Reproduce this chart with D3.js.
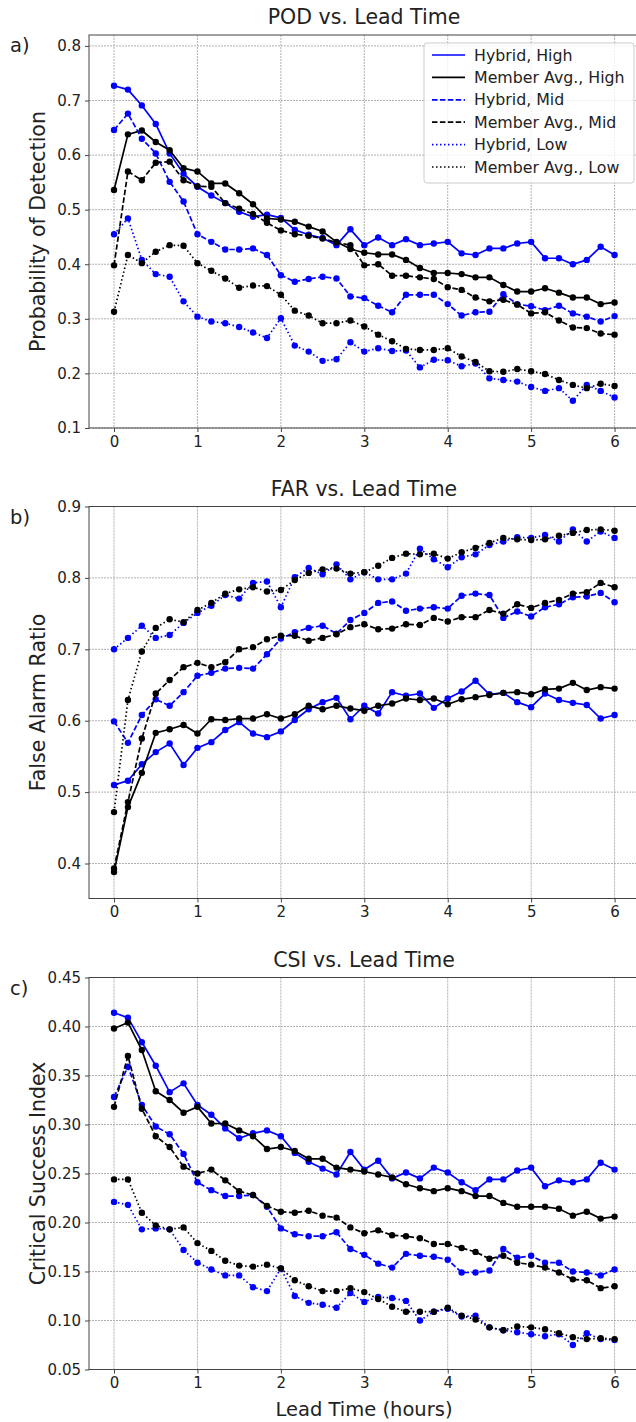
<!DOCTYPE html>
<html>
<head>
<meta charset="utf-8">
<script src="https://cdn.jsdelivr.net/npm/d3@7"></script>
<style>
  body { margin: 0; background: #fff; }
  svg text { font-family: "DejaVu Sans", sans-serif; fill: #222; }
</style>
</head>
<body>
<div id="chart"></div>
<script>
// lead time in minutes (10-minute steps out to 6 hours)
var leadMinutes = [0,10,20,30,40,50,60,70,80,90,100,110,120,130,140,150,160,170,180,
  190,200,210,220,230,240,250,260,270,280,290,300,310,320,330,340,350,360];

var seriesNames = ["Hybrid, High", "Member Avg., High", "Hybrid, Mid",
  "Member Avg., Mid", "Hybrid, Low", "Member Avg., Low"];

// a) POD
var podHybridHigh = [0.727,0.720,0.691,0.657,0.603,0.566,0.542,0.526,0.512,0.496,0.487,0.491,0.485,
  0.463,0.454,0.448,0.435,0.464,0.435,0.449,0.435,0.446,0.435,0.438,0.441,
  0.420,0.417,0.429,0.429,0.438,0.441,0.411,0.411,0.400,0.408,0.432,0.417];
var podMemberHigh = [0.536,0.638,0.645,0.624,0.609,0.576,0.570,0.548,0.548,0.530,0.510,0.484,0.482,
  0.478,0.469,0.460,0.441,0.428,0.421,0.418,0.418,0.408,0.393,0.384,0.384,
  0.382,0.376,0.376,0.362,0.350,0.350,0.356,0.348,0.339,0.339,0.327,0.330];
var podHybridMid = [0.646,0.676,0.630,0.603,0.551,0.515,0.455,0.441,0.427,0.427,0.429,0.417,0.380,
  0.368,0.373,0.377,0.374,0.341,0.338,0.324,0.312,0.344,0.344,0.344,0.327,
  0.306,0.312,0.313,0.345,0.327,0.323,0.316,0.324,0.310,0.304,0.295,0.305];
var podMemberMid = [0.398,0.570,0.554,0.586,0.588,0.554,0.543,0.542,0.512,0.502,0.492,0.476,0.462,
  0.455,0.452,0.447,0.440,0.435,0.398,0.400,0.379,0.379,0.376,0.373,0.358,
  0.353,0.339,0.332,0.335,0.326,0.310,0.312,0.297,0.284,0.283,0.273,0.271];
var podHybridLow = [0.455,0.484,0.408,0.382,0.377,0.332,0.304,0.295,0.292,0.285,0.275,0.265,0.301,
  0.251,0.240,0.223,0.226,0.257,0.240,0.246,0.241,0.242,0.211,0.225,0.224,
  0.213,0.218,0.191,0.188,0.185,0.175,0.168,0.173,0.150,0.179,0.168,0.156];
var podMemberLow = [0.313,0.417,0.402,0.423,0.435,0.434,0.402,0.388,0.374,0.357,0.361,0.360,0.344,
  0.315,0.306,0.292,0.292,0.297,0.286,0.271,0.259,0.245,0.243,0.243,0.246,
  0.231,0.221,0.204,0.203,0.208,0.204,0.199,0.188,0.179,0.173,0.181,0.177];

// b) FAR
var farHybridHigh = [0.510,0.516,0.539,0.556,0.568,0.538,0.562,0.570,0.587,0.598,0.582,0.577,0.585,
  0.601,0.616,0.626,0.632,0.602,0.621,0.610,0.640,0.635,0.638,0.618,0.631,
  0.641,0.656,0.637,0.639,0.626,0.619,0.638,0.629,0.625,0.622,0.603,0.608];
var farMemberHigh = [0.388,0.479,0.527,0.583,0.588,0.594,0.582,0.602,0.601,0.603,0.603,0.609,0.603,
  0.609,0.621,0.616,0.621,0.617,0.614,0.621,0.624,0.631,0.629,0.631,0.623,
  0.630,0.633,0.636,0.639,0.640,0.637,0.644,0.645,0.653,0.643,0.647,0.645];
var farHybridMid = [0.599,0.569,0.608,0.630,0.621,0.640,0.663,0.667,0.673,0.674,0.673,0.693,0.715,
  0.724,0.730,0.733,0.722,0.741,0.751,0.765,0.767,0.754,0.757,0.759,0.757,
  0.775,0.778,0.776,0.744,0.753,0.746,0.759,0.763,0.773,0.774,0.779,0.766];
var farMemberMid = [0.393,0.486,0.575,0.638,0.657,0.675,0.681,0.675,0.682,0.700,0.703,0.714,0.719,
  0.719,0.712,0.716,0.721,0.731,0.735,0.728,0.729,0.735,0.734,0.744,0.739,
  0.745,0.745,0.755,0.750,0.763,0.758,0.765,0.769,0.778,0.780,0.793,0.787];
var farHybridLow = [0.700,0.716,0.733,0.716,0.720,0.737,0.751,0.761,0.776,0.771,0.793,0.795,0.759,
  0.801,0.814,0.805,0.819,0.798,0.808,0.798,0.798,0.806,0.841,0.826,0.815,
  0.829,0.833,0.846,0.851,0.857,0.856,0.860,0.851,0.868,0.851,0.865,0.856];
var farMemberLow = [0.472,0.629,0.697,0.730,0.742,0.738,0.755,0.765,0.778,0.784,0.787,0.781,0.783,
  0.797,0.807,0.812,0.813,0.806,0.808,0.817,0.828,0.834,0.833,0.834,0.827,
  0.836,0.842,0.849,0.856,0.854,0.853,0.854,0.859,0.863,0.867,0.868,0.866];

// c) CSI
var csiHybridHigh = [0.414,0.409,0.384,0.360,0.333,0.342,0.320,0.310,0.296,0.286,0.291,0.294,0.288,
  0.271,0.262,0.255,0.249,0.272,0.254,0.263,0.245,0.251,0.245,0.256,0.251,
  0.241,0.233,0.244,0.244,0.253,0.256,0.237,0.243,0.241,0.244,0.261,0.254];
var csiMemberHigh = [0.398,0.404,0.376,0.334,0.325,0.312,0.318,0.301,0.301,0.294,0.288,0.275,0.277,
  0.273,0.265,0.265,0.256,0.254,0.252,0.249,0.246,0.239,0.235,0.232,0.235,
  0.232,0.227,0.227,0.220,0.216,0.216,0.216,0.214,0.207,0.211,0.204,0.206];
var csiHybridMid = [0.328,0.359,0.320,0.298,0.290,0.270,0.241,0.233,0.227,0.227,0.228,0.216,0.194,
  0.188,0.186,0.186,0.190,0.173,0.167,0.158,0.154,0.168,0.166,0.165,0.162,
  0.149,0.149,0.151,0.173,0.164,0.166,0.159,0.159,0.150,0.149,0.146,0.152];
var csiMemberMid = [0.318,0.370,0.316,0.288,0.277,0.257,0.250,0.254,0.243,0.232,0.228,0.217,0.211,
  0.210,0.212,0.207,0.205,0.195,0.189,0.192,0.187,0.186,0.184,0.178,0.178,
  0.174,0.170,0.163,0.166,0.159,0.157,0.154,0.149,0.142,0.141,0.133,0.135];
var csiHybridLow = [0.221,0.218,0.193,0.194,0.193,0.172,0.159,0.152,0.146,0.146,0.134,0.130,0.153,
  0.125,0.118,0.116,0.113,0.128,0.119,0.124,0.123,0.120,0.100,0.109,0.112,
  0.104,0.105,0.093,0.090,0.088,0.086,0.084,0.086,0.075,0.087,0.081,0.080];
var csiMemberLow = [0.244,0.244,0.210,0.197,0.193,0.195,0.179,0.171,0.161,0.156,0.155,0.157,0.153,
  0.141,0.135,0.130,0.130,0.133,0.129,0.122,0.114,0.109,0.109,0.109,0.113,
  0.105,0.101,0.093,0.090,0.094,0.093,0.091,0.087,0.083,0.081,0.082,0.081];

var xTicks = [0, 1, 2, 3, 4, 5, 6];
var podTicks = [0.1, 0.2, 0.3, 0.4, 0.5, 0.6, 0.7, 0.8];
var farTicks = [0.4, 0.5, 0.6, 0.7, 0.8, 0.9];
var csiTicks = [0.05, 0.10, 0.15, 0.20, 0.25, 0.30, 0.35, 0.40, 0.45];

var width = 636, height = 1422;

// line styles per series, same order as seriesNames
var colors = ["#0000ff", "#000000", "#0000ff", "#000000", "#0000ff", "#000000"];
var dashes = [null, null, "5.5,2.4", "5.5,2.4", "1.5,2.5", "1.5,2.5"];

var panels = [
  {letter: "a)", title: "POD vs. Lead Time", ylabel: "Probability of Detection",
   top: 35, bottom: 428, domain: [0.1, 0.82], ticks: podTicks, fmt: ".1f",
   series: [podHybridHigh, podMemberHigh, podHybridMid, podMemberMid, podHybridLow, podMemberLow], legend: true},
  {letter: "b)", title: "FAR vs. Lead Time", ylabel: "False Alarm Ratio",
   top: 506.5, bottom: 898.5, domain: [0.351, 0.9], ticks: farTicks, fmt: ".1f",
   series: [farHybridHigh, farMemberHigh, farHybridMid, farMemberMid, farHybridLow, farMemberLow]},
  {letter: "c)", title: "CSI vs. Lead Time", ylabel: "Critical Success Index",
   top: 977.5, bottom: 1369.5, domain: [0.05, 0.45], ticks: csiTicks, fmt: ".2f",
   series: [csiHybridHigh, csiMemberHigh, csiHybridMid, csiMemberMid, csiHybridLow, csiMemberLow],
   xlabel: "Lead Time (hours)"}
];

var svg = d3.select("#chart").append("svg")
  .attr("width", width)
  .attr("height", height);

var x = d3.scaleLinear().domain([-0.3, 6.3]).range([89, 639.6]);
var hours = leadMinutes.map(function(m){ return m / 60; });

panels.forEach(function(p){
  var y = d3.scaleLinear().domain(p.domain).range([p.bottom, p.top]);
  var g = svg.append("g");

  //grid
  g.append("g").selectAll("line").data(xTicks).enter().append("line")
    .attr("x1", function(d){ return x(d); }).attr("x2", function(d){ return x(d); })
    .attr("y1", p.top).attr("y2", p.bottom)
    .attr("stroke", "#a8a8a8").attr("stroke-width", 0.9).attr("stroke-dasharray", "2,1");
  g.append("g").selectAll("line").data(p.ticks).enter().append("line")
    .attr("x1", x.range()[0]).attr("x2", x.range()[1])
    .attr("y1", function(d){ return y(d); }).attr("y2", function(d){ return y(d); })
    .attr("stroke", "#a8a8a8").attr("stroke-width", 0.9).attr("stroke-dasharray", "2,1");

  //axes
  var xAxis = g.append("g").attr("transform", "translate(0," + p.bottom + ")")
    .call(d3.axisBottom(x).tickValues(xTicks).tickSize(4).tickPadding(4).tickFormat(d3.format("d")));
  var yAxis = g.append("g").attr("transform", "translate(" + x.range()[0] + ",0)")
    .call(d3.axisLeft(y).tickValues(p.ticks).tickSize(4).tickPadding(4).tickFormat(d3.format(p.fmt)));
  [xAxis, yAxis].forEach(function(a){
    a.select(".domain").remove();
    a.selectAll(".tick line").attr("stroke", "#444");
    a.selectAll("text").attr("font-size", 15).attr("fill", "#222")
      .attr("font-family", "DejaVu Sans, sans-serif");
  });

  //frame
  g.append("rect").attr("x", x.range()[0]).attr("y", p.top)
    .attr("width", x.range()[1] - x.range()[0]).attr("height", p.bottom - p.top)
    .attr("fill", "none").attr("stroke", "#444").attr("stroke-width", 1);

  //series
  var line = d3.line().x(function(d, i){ return x(hours[i]); }).y(function(d){ return y(d); });
  p.series.forEach(function(vals, k){
    g.append("path").datum(vals)
      .attr("d", line)
      .attr("fill", "none")
      .attr("stroke", colors[k])
      .attr("stroke-width", 1.7)
      .attr("stroke-dasharray", dashes[k]);
    g.append("g").selectAll("circle").data(vals).enter().append("circle")
      .attr("cx", function(d, i){ return x(hours[i]); })
      .attr("cy", function(d){ return y(d); })
      .attr("r", 3.2)
      .attr("fill", colors[k]);
  });

  //titles and labels
  g.append("text").attr("x", 364).attr("y", p.top - 11)
    .attr("text-anchor", "middle").attr("font-size", 20.5).text(p.title);
  g.append("text").attr("x", 10).attr("y", p.top + 17)
    .attr("font-size", 19.5).text(p.letter);
  g.append("text")
    .attr("transform", "translate(45," + ((p.top + p.bottom) / 2) + ") rotate(-90)")
    .attr("text-anchor", "middle").attr("font-size", 20.5).text(p.ylabel);
  if (p.xlabel) {
    g.append("text").attr("x", 364).attr("y", p.bottom + 46)
      .attr("text-anchor", "middle").attr("font-size", 19.5).text(p.xlabel);
  }

  //legend
  if (p.legend) {
    var lg = g.append("g").attr("transform", "translate(424,43)");
    lg.append("rect").attr("width", 210).attr("height", 140).attr("rx", 3)
      .attr("fill", "#fff").attr("fill-opacity", 0.8)
      .attr("stroke", "#ccc").attr("stroke-width", 1);
    seriesNames.forEach(function(name, k){
      var ly = 12 + k * 22.4;
      lg.append("line").attr("x1", 8).attr("x2", 41).attr("y1", ly).attr("y2", ly)
        .attr("stroke", colors[k]).attr("stroke-width", 1.7)
        .attr("stroke-dasharray", dashes[k]);
      lg.append("text").attr("x", 50).attr("y", ly).attr("dy", "0.35em")
        .attr("font-size", 15.8).text(name);
    });
  }
});
</script>
</body>
</html>
